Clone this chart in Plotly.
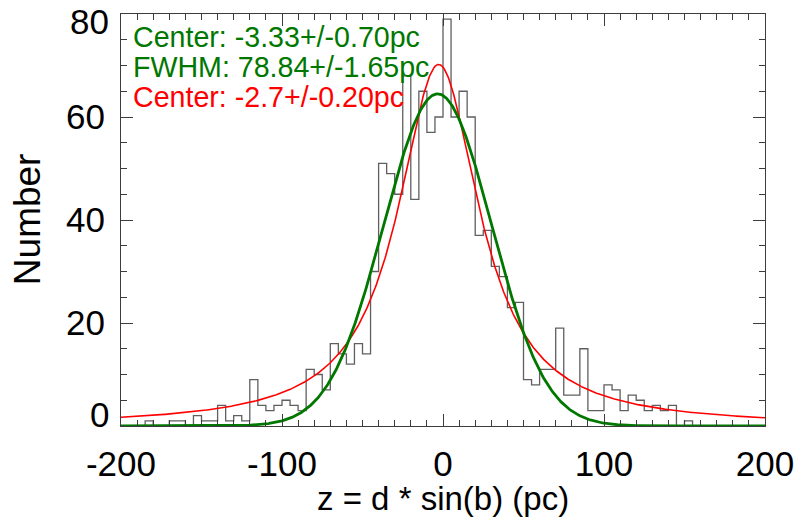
import numpy as np
import plotly.graph_objects as go

# Histogram: bin left edges (pc) and counts
bin_edges = list(range(-200, 205, 5))
counts = [0, 0, 0, 1, 0, 0, 1, 1, 0, 2,
          1, 1, 4, 1, 2, 1, 9, 4, 3, 4,
          5, 4, 3, 11, 10, 7, 16, 14, 12, 16,
          14, 30, 51, 49, 45, 68, 44, 65, 57, 60,
          79, 60, 65, 60, 37, 38, 31, 29, 23, 24,
          9, 8, 11, 11, 19, 6, 6, 15, 3, 3,
          8, 7, 3, 6, 5, 3, 4, 3, 4, 0,
          1, 0, 0, 0, 0, 0, 0, 0, 0, 0]

# Fit parameters
gauss_center = -3.33
gauss_fwhm = 78.84
gauss_amp = 64.5
lor_center = -2.7
lor_gamma = 31.0
lor_amp = 70.2

labels = ["Center: -3.33+/-0.70pc", "FWHM: 78.84+/-1.65pc", "Center: -2.7+/-0.20pc"]
label_colors = ["rgb(0,120,0)", "rgb(0,120,0)", "rgb(255,0,0)"]
x_title = "z = d * sin(b) (pc)"
y_title = "Number"
x_tickvals = [-200, -100, 0, 100, 200]
x_ticktext = ["-200", "-100", "0", "100", "200"]
y_tickvals = [0, 20, 40, 60, 80]
y_ticktext = ["0", "20", "40", "60", "80"]

GREEN = "rgb(0,120,0)"
RED = "rgb(255,0,0)"
FONT = "Liberation Sans, Arial, sans-serif"

xs = np.linspace(-200, 200, 801)
sigma = gauss_fwhm / (2 * np.sqrt(2 * np.log(2)))
gauss = gauss_amp * np.exp(-0.5 * ((xs - gauss_center) / sigma) ** 2)
lor = lor_amp / (1 + ((xs - lor_center) / lor_gamma) ** 2)

fig = go.Figure()
fig.add_trace(go.Scatter(
    x=bin_edges, y=counts + [counts[-1]], mode="lines",
    line=dict(shape="hv", color="rgb(95,95,95)", width=1.3),
    hoverinfo="skip", showlegend=False))
fig.add_trace(go.Scatter(x=xs, y=lor, mode="lines",
                         line=dict(color=RED, width=1.6), showlegend=False))
fig.add_trace(go.Scatter(x=xs, y=gauss, mode="lines",
                         line=dict(color=GREEN, width=2.8), showlegend=False))

for i, (t, c) in enumerate(zip(labels, label_colors)):
    fig.add_annotation(x=0.0155, y=0.945 - i * 0.0728, xref="paper", yref="paper",
                       text=t, showarrow=False, xanchor="left", yanchor="middle",
                       font=dict(family=FONT, size=28.6, color=c))

# axis titles as annotations for exact placement
fig.add_annotation(x=0.5, y=-0.175, xref="paper", yref="paper", text=x_title,
                   showarrow=False, xanchor="center", yanchor="middle",
                   font=dict(family=FONT, size=33, color="black"))
fig.add_annotation(x=-0.146, y=0.502, xref="paper", yref="paper", text=y_title,
                   showarrow=False, xanchor="center", yanchor="middle", textangle=-90,
                   font=dict(family=FONT, size=37, color="black"))

# end labels of the y axis are nudged inward (as in the original), drawn as annotations
y_shown = [t if v not in (y_tickvals[0], y_tickvals[-1]) else "" for v, t in zip(y_tickvals, y_ticktext)]
for v, t, ypos in [(y_tickvals[0], y_ticktext[0], 0.029), (y_tickvals[-1], y_ticktext[-1], 0.981)]:
    fig.add_annotation(x=-0.0155, y=ypos, xref="paper", yref="paper", text=t,
                       showarrow=False, xanchor="right", yanchor="middle",
                       font=dict(family=FONT, size=35, color="black"))

axis_common = dict(
    showline=True, linecolor="rgb(60,60,60)", linewidth=1.2, mirror="ticks",
    ticks="inside", ticklen=12, tickwidth=1.2, tickcolor="rgb(60,60,60)",
    showgrid=False, zeroline=False, ticklabeloverflow="allow", automargin=False,
    tickfont=dict(family=FONT, size=35, color="black"),
)

fig.update_xaxes(range=[-200, 200], tickvals=x_tickvals, ticktext=x_ticktext,
                 minor=dict(dtick=10, ticks="inside", ticklen=6, tickwidth=1, tickcolor="rgb(60,60,60)"),
                 ticklabelstandoff=7, **axis_common)
fig.update_yaxes(range=[0, 80], tickvals=y_tickvals, ticktext=y_shown,
                 minor=dict(dtick=5, ticks="inside", ticklen=6, tickwidth=1, tickcolor="rgb(60,60,60)"),
                 ticklabelstandoff=8, **axis_common)

fig.update_layout(width=799, height=523, margin=dict(l=121, r=34, t=14, b=97),
                  plot_bgcolor="white", paper_bgcolor="white")

fig.write_html("out.html", config={"displayModeBar": False},
               post_script="document.body.style.margin='0';document.body.style.overflow='hidden';")
